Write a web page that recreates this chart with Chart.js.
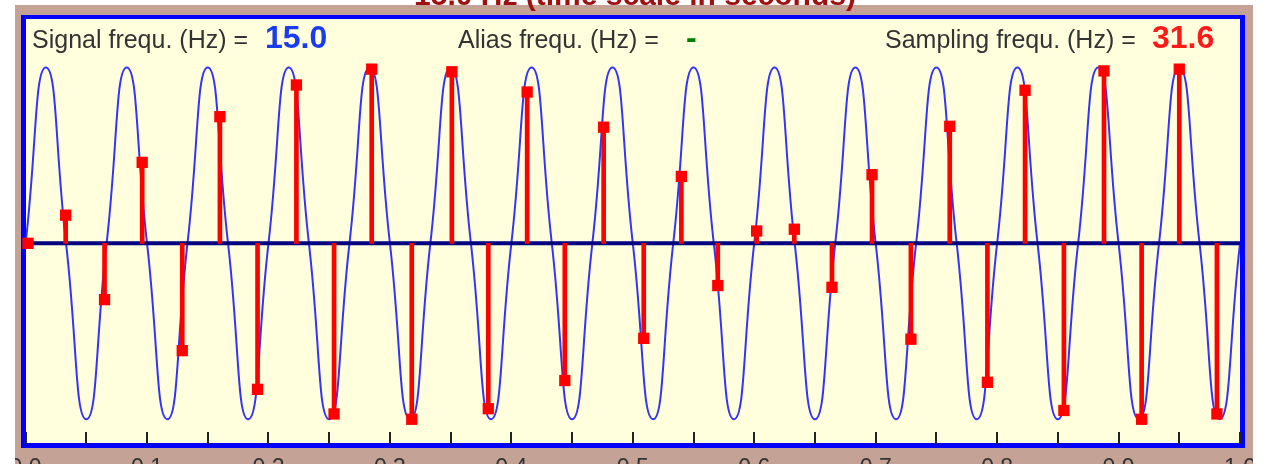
<!DOCTYPE html>
<html>
<head>
<meta charset="utf-8">
<script src="https://cdn.jsdelivr.net/npm/chart.js@4.4.1/dist/chart.umd.min.js"></script>
<style>
  html, body { margin: 0; padding: 0; background: #fff; overflow: hidden; }
  body { width: 1263px; height: 464px; position: relative; font-family: "Liberation Sans", Arial, sans-serif; }
  #applet { position: absolute; left: 15px; top: 5px; width: 1238px; height: 459px; background: #c4a396; }
  #frame {
    position: absolute; left: 21px; top: 15px; width: 1214px; height: 424px;
    border-style: solid; border-color: #0000ff; border-width: 4px 5px 5px 5px;
    background: #ffffdd;
  }
  #plot { position: absolute; left: 15px; top: 0; }
  .txt { position: absolute; white-space: nowrap; line-height: 1; }
  .lbl { font-size: 25px; color: #333; top: 27px; }
  .val { font-size: 32px; font-weight: bold; top: 21px; }
  #title { left: 0; width: 1270px; text-align: center; top: -20px; font-size: 30px; font-weight: bold; color: #a01010; }
</style>
</head>
<body>
<div id="applet"></div>
<div id="frame"></div>
<canvas id="plot" width="1238" height="464"></canvas>
<div id="title" class="txt">15.0 Hz (time scale in seconds)</div>
<div class="txt lbl" style="left:32px">Signal frequ. (Hz) =</div>
<div class="txt val" style="left:265px;color:#1a3cf0">15.0</div>
<div class="txt lbl" style="left:458px">Alias frequ. (Hz) =</div>
<div class="txt val" style="left:686px;color:#008000">-</div>
<div class="txt lbl" style="left:885px">Sampling frequ. (Hz) =</div>
<div class="txt val" style="left:1152px;color:#ff1a1a">31.6</div>
<script>
const sampleTimes = [0.002, 0.033, 0.065, 0.096, 0.129, 0.160, 0.191, 0.223, 0.254, 0.285,
  0.318, 0.351, 0.381, 0.413, 0.444, 0.476, 0.509, 0.540, 0.570, 0.602,
  0.633, 0.664, 0.697, 0.729, 0.761, 0.792, 0.823, 0.855, 0.888, 0.919, 0.950, 0.981];
const sampleValues = [0, 0.16, -0.32, 0.46, -0.61, 0.72, -0.83, 0.90, -0.97, 0.99,
  -1.0, 0.975, -0.94, 0.86, -0.78, 0.66, -0.54, 0.38, -0.24, 0.07,
  0.08, -0.25, 0.39, -0.545, 0.665, -0.79, 0.87, -0.95, 0.98, -1.0, 0.99, -0.97];

// 15 Hz signal: zero crossings, peaks and troughs (quarter periods)
const signalTimes = [0, 0.0167, 0.0333, 0.05, 0.0667, 0.0833, 0.1, 0.1167, 0.1333, 0.15,
  0.1667, 0.1833, 0.2, 0.2167, 0.2333, 0.25, 0.2667, 0.2833, 0.3, 0.3167,
  0.3333, 0.35, 0.3667, 0.3833, 0.4, 0.4167, 0.4333, 0.45, 0.4667, 0.4833,
  0.5, 0.5167, 0.5333, 0.55, 0.5667, 0.5833, 0.6, 0.6167, 0.6333, 0.65,
  0.6667, 0.6833, 0.7, 0.7167, 0.7333, 0.75, 0.7667, 0.7833, 0.8, 0.8167,
  0.8333, 0.85, 0.8667, 0.8833, 0.9, 0.9167, 0.9333, 0.95, 0.9667, 0.9833, 1.0];
const signalValues = [0, 1, 0, -1, 0, 1, 0, -1, 0, 1,
  0, -1, 0, 1, 0, -1, 0, 1, 0, -1,
  0, 1, 0, -1, 0, 1, 0, -1, 0, 1,
  0, -1, 0, 1, 0, -1, 0, 1, 0, -1,
  0, 1, 0, -1, 0, 1, 0, -1, 0, 1,
  0, -1, 0, 1, 0, -1, 0, 1, 0, -1, 0];

const xTickLabels = ['0.0', '0.1', '0.2', '0.3', '0.4', '0.5', '0.6', '0.7', '0.8', '0.9', '1.0'];
const zeroLine = [0, 0];

const toPoints = (xs, ys) => xs.map((x, i) => ({ x: x, y: ys[i] }));

// short tick marks pointing up into the plot from the bottom border
const innerTicks = {
  id: 'innerTicks',
  afterDraw(chart) {
    const xs = chart.scales.x;
    const area = chart.chartArea;
    const ctx = chart.ctx;
    ctx.save();
    ctx.strokeStyle = '#222';
    ctx.lineWidth = 2;
    xs.ticks.forEach(t => {
      const px = Math.round(xs.getPixelForValue(t.value));
      ctx.beginPath();
      ctx.moveTo(px, area.bottom + 1);
      ctx.lineTo(px, area.bottom - 11);
      ctx.stroke();
    });
    ctx.restore();
  }
};

new Chart(document.getElementById('plot'), {
  type: 'scatter',
  data: {
    datasets: [
      {
        type: 'scatter',
        data: toPoints(sampleTimes, sampleValues),
        pointStyle: 'rect',
        pointRadius: 8,
        pointBackgroundColor: '#ff0000',
        pointBorderWidth: 0,
        clip: false
      },
      {
        type: 'bar',
        data: toPoints(sampleTimes, sampleValues),
        backgroundColor: '#ff0000',
        borderWidth: 0,
        barThickness: 4
      },
      {
        type: 'line',
        data: toPoints([0, 1], zeroLine),
        borderColor: '#000080',
        borderWidth: 4,
        pointRadius: 0
      },
      {
        type: 'line',
        data: toPoints(signalTimes, signalValues),
        borderColor: '#3333ff',
        borderWidth: 2,
        pointRadius: 0,
        tension: 0.55
      }
    ]
  },
  options: {
    responsive: false,
    devicePixelRatio: 1,
    animation: false,
    layout: { padding: { left: 10.6, right: 13, top: 19, bottom: 0 } },
    plugins: { legend: { display: false }, tooltip: { enabled: false } },
    scales: {
      x: {
        type: 'linear',
        min: 0,
        max: 1,
        offset: false,
        grid: { display: false },
        border: { display: false },
        ticks: {
          stepSize: 0.05,
          autoSkip: false,
          maxRotation: 0,
          padding: 4,
          color: '#333',
          font: { family: '"Liberation Sans", Arial, sans-serif', size: 23 },
          callback: function(value) {
            const k = Math.round(value * 20);
            return k % 2 === 0 ? xTickLabels[k / 2] : '';
          }
        },
        afterFit: function(scale) {
          scale.height = 21;
          scale.paddingLeft = 0;
          scale.paddingRight = 0;
        }
      },
      y: {
        display: false,
        min: -1.135,
        max: 1.275
      }
    }
  },
  plugins: [innerTicks]
});
</script>
</body>
</html>
